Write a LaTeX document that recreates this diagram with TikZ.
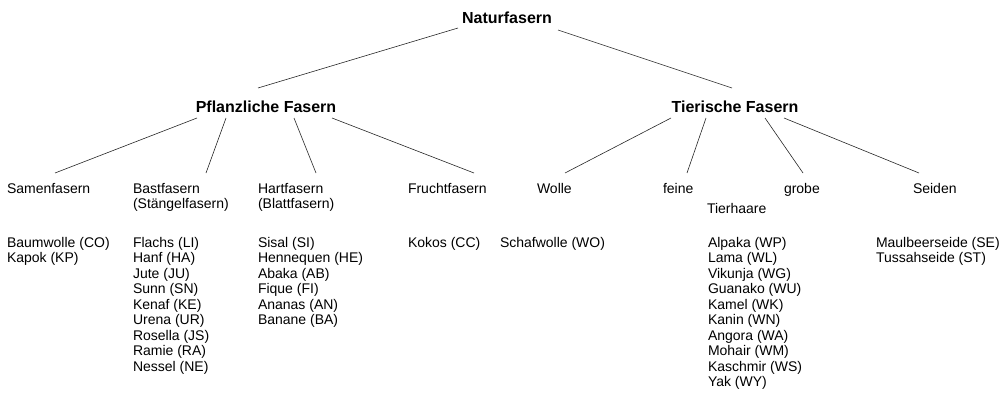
\documentclass[tikz,border=0pt]{standalone}
\usepackage{fontspec}
\setmainfont{Liberation Sans}
\newcommand\fiblist[1]{\vtop{\baselineskip=15.55pt\lineskiplimit=-10pt\halign{##\hfil\cr#1\crcr}}}
\begin{document}
\begin{tikzpicture}[x=1pt,y=-1pt,
  every node/.style={inner sep=0pt, outer sep=0pt},
  txt/.style={anchor=base west, font=\fontsize{14}{15.55}\selectfont},
  head/.style={anchor=base, font=\fontsize{16}{18}\selectfont\bfseries},
  edge/.style={line width=0.6pt, draw=black!85}]
\useasboundingbox (0,0) rectangle (1006,412);

% top levels
\node[head] (nat) at (507,24) {Naturfasern};
\node[head] (pfl) at (266,112) {Pflanzliche Fasern};
\node[head] (tier) at (735,112) {Tierische Fasern};

% categories
\node[txt] (samen) at (7,193) {Samenfasern};
\node[txt] (bast) at (133,193) {\fiblist{Bastfasern\cr (Stängelfasern)}};
\node[txt] (hart) at (258,193) {\fiblist{Hartfasern\cr (Blattfasern)}};
\node[txt] (frucht) at (408,193) {Fruchtfasern};
\node[txt] (wolle) at (537,193) {Wolle};
\node[txt] (feine) at (663,193) {feine};
\node[txt] (tierhaare) at (707,213) {Tierhaare};
\node[txt] (grobe) at (784,193) {grobe};
\node[txt] (seiden) at (913,193) {Seiden};

% lists
\node[txt] (lsamen) at (7,247) {\fiblist{Baumwolle (CO)\cr Kapok (KP)}};
\node[txt] (lbast) at (133,247) {\fiblist{Flachs (LI)\cr Hanf (HA)\cr Jute (JU)\cr Sunn (SN)\cr Kenaf (KE)\cr Urena (UR)\cr Rosella (JS)\cr Ramie (RA)\cr Nessel (NE)}};
\node[txt] (lhart) at (258,247) {\fiblist{Sisal (SI)\cr Hennequen (HE)\cr Abaka (AB)\cr Fique (FI)\cr Ananas (AN)\cr Banane (BA)}};
\node[txt] (lfrucht) at (408,247) {Kokos (CC)};
\node[txt] (lwolle) at (500,247) {Schafwolle (WO)};
\node[txt] (lhaare) at (708,247) {\fiblist{Alpaka (WP)\cr Lama (WL)\cr Vikunja (WG)\cr Guanako (WU)\cr Kamel (WK)\cr Kanin (WN)\cr Angora (WA)\cr Mohair (WM)\cr Kaschmir (WS)\cr Yak (WY)}};
\node[txt] (lseiden) at (876,247) {\fiblist{Maulbeerseide (SE)\cr Tussahseide (ST)}};

% connectors
\draw[edge] ([shift={(-49,4)}]nat.base) -- ([shift={(-8,-24)}]pfl.base);
\draw[edge] ([shift={(51,6)}]nat.base) -- ([shift={(-3,-24)}]tier.base);

\draw[edge] ([shift={(-69,6)}]pfl.base) -- ([shift={(48,-20)}]samen.base west);
\draw[edge] ([shift={(-40,6)}]pfl.base) -- ([shift={(73,-20)}]bast.base west);
\draw[edge] ([shift={(28,6)}]pfl.base) -- ([shift={(58,-20)}]hart.base west);
\draw[edge] ([shift={(66,6)}]pfl.base) -- ([shift={(66,-20)}]frucht.base west);

\draw[edge] ([shift={(-64,6)}]tier.base) -- ([shift={(28,-20)}]wolle.base west);
\draw[edge] ([shift={(-29,6)}]tier.base) -- ([shift={(24,-20)}]feine.base west);
\draw[edge] ([shift={(30,6)}]tier.base) -- ([shift={(19,-20)}]grobe.base west);
\draw[edge] ([shift={(49,6)}]tier.base) -- ([shift={(6,-20)}]seiden.base west);
\end{tikzpicture}
\end{document}
